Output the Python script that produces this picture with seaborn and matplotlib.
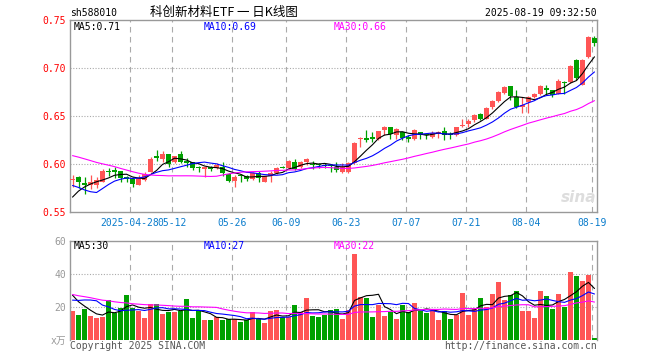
import numpy as np
import pandas as pd
import matplotlib
matplotlib.use("Agg")
import matplotlib.pyplot as plt
import seaborn as sns

# ---------------- data ----------------
holidays = ["2025-05-01", "2025-05-02", "2025-05-05", "2025-06-02"]
dates = pd.bdate_range("2025-04-14", "2025-08-19", freq="C", holidays=holidays)

tick_dates = ["2025-04-28", "2025-05-12", "2025-05-26", "2025-06-09", "2025-06-23",
              "2025-07-07", "2025-07-21", "2025-08-04", "2025-08-19"]
tick_labels = ["2025-04-28", "05-12", "05-26", "06-09", "06-23",
               "07-07", "07-21", "08-04", "08-19"]

open_ = [0.5835, 0.5870, 0.5800, 0.5785, 0.5785, 0.5813, 0.5924, 0.5938, 0.5931, 0.5865,
         0.5847, 0.5788, 0.5840, 0.5924, 0.6083, 0.6056, 0.6108, 0.6020, 0.6108, 0.6030,
         0.6020, 0.5962, 0.5955, 0.5958, 0.5958, 0.5976, 0.5899, 0.5830, 0.5885, 0.5882,
         0.5847, 0.5910, 0.5820, 0.5875, 0.5910, 0.5969, 0.5965, 0.6028, 0.5976, 0.6021,
         0.5995, 0.5993, 0.5983, 0.5983, 0.5976, 0.5924, 0.5924, 0.6010, 0.6260, 0.6271,
         0.6288, 0.6264, 0.6358, 0.6385, 0.6306, 0.6330, 0.6274, 0.6264, 0.6333, 0.6309,
         0.6281, 0.6326, 0.6347, 0.6309, 0.6306, 0.6396, 0.6417, 0.6462, 0.6521, 0.6472,
         0.6594, 0.6653, 0.6740, 0.6816, 0.6698, 0.6594, 0.6642, 0.6698, 0.6733, 0.6792,
         0.6767, 0.6733, 0.6854, 0.6851, 0.7080, 0.6826, 0.7115, 0.7313]
high = [0.5889, 0.5875, 0.5865, 0.5889, 0.5872, 0.5948, 0.5965, 0.5976, 0.5934, 0.5875,
        0.5865, 0.5890, 0.5915, 0.6070, 0.6150, 0.6139, 0.6108, 0.6090, 0.6135, 0.6060,
        0.6020, 0.5983, 0.5966, 0.5983, 0.6010, 0.6020, 0.5913, 0.5885, 0.5899, 0.5893,
        0.5915, 0.5927, 0.5875, 0.5927, 0.5976, 0.5983, 0.6045, 0.6052, 0.6038, 0.6069,
        0.6038, 0.6010, 0.6010, 0.5990, 0.6028, 0.6010, 0.6028, 0.6226, 0.6281, 0.6358,
        0.6340, 0.6347, 0.6399, 0.6392, 0.6375, 0.6340, 0.6306, 0.6368, 0.6340, 0.6323,
        0.6347, 0.6347, 0.6392, 0.6330, 0.6392, 0.6472, 0.6472, 0.6524, 0.6531, 0.6594,
        0.6670, 0.6757, 0.6816, 0.6816, 0.6767, 0.6698, 0.6712, 0.6740, 0.6826, 0.6826,
        0.6767, 0.6885, 0.6861, 0.7031, 0.7094, 0.7094, 0.7337, 0.7330]
low = [0.5767, 0.5750, 0.5691, 0.5747, 0.5750, 0.5810, 0.5878, 0.5854, 0.5810, 0.5813,
       0.5767, 0.5780, 0.5830, 0.5920, 0.6038, 0.6028, 0.5969, 0.6015, 0.6010, 0.5975,
       0.5935, 0.5924, 0.5865, 0.5931, 0.5948, 0.5875, 0.5820, 0.5767, 0.5813, 0.5823,
       0.5840, 0.5812, 0.5813, 0.5813, 0.5903, 0.5958, 0.5948, 0.5941, 0.5958, 0.5993,
       0.5948, 0.5962, 0.5962, 0.5924, 0.5924, 0.5910, 0.5910, 0.6000, 0.6184, 0.6236,
       0.6226, 0.6253, 0.6306, 0.6264, 0.6264, 0.6247, 0.6229, 0.6253, 0.6264, 0.6264,
       0.6271, 0.6271, 0.6247, 0.6260, 0.6295, 0.6385, 0.6392, 0.6444, 0.6462, 0.6472,
       0.6573, 0.6642, 0.6733, 0.6670, 0.6583, 0.6531, 0.6531, 0.6688, 0.6722, 0.6733,
       0.6698, 0.6733, 0.6733, 0.6844, 0.6878, 0.6826, 0.7104, 0.7233]
close = [0.5840, 0.5813, 0.5785, 0.5813, 0.5837, 0.5931, 0.5920, 0.5924, 0.5854, 0.5851,
         0.5790, 0.5860, 0.5900, 0.6056, 0.6069, 0.6104, 0.6000, 0.6085, 0.6020, 0.6010,
         0.5958, 0.5958, 0.5962, 0.5955, 0.5990, 0.5906, 0.5830, 0.5872, 0.5880, 0.5847,
         0.5910, 0.5858, 0.5875, 0.5910, 0.5965, 0.5965, 0.6038, 0.5948, 0.6028, 0.6052,
         0.5993, 0.5990, 0.5979, 0.5979, 0.5941, 0.5976, 0.6017, 0.6219, 0.6271, 0.6247,
         0.6260, 0.6347, 0.6392, 0.6316, 0.6365, 0.6271, 0.6267, 0.6358, 0.6306, 0.6302,
         0.6323, 0.6333, 0.6306, 0.6302, 0.6385, 0.6403, 0.6451, 0.6510, 0.6472, 0.6583,
         0.6653, 0.6747, 0.6802, 0.6712, 0.6594, 0.6618, 0.6698, 0.6733, 0.6816, 0.6767,
         0.6722, 0.6861, 0.6847, 0.7024, 0.6896, 0.7087, 0.7319, 0.7260]
volume = [17.6, 15.2, 18.8, 14.6, 13.4, 14.0, 24.4, 16.6, 19.2, 27.2,
          19.2, 17.6, 13.4, 21.6, 21.8, 15.8, 17.0, 17.0, 17.6, 24.8,
          13.4, 17.6, 12.2, 12.2, 13.8, 12.4, 12.6, 12.6, 11.0, 12.2,
          17.0, 13.0, 10.4, 17.6, 18.2, 13.8, 13.8, 21.2, 16.8, 25.4,
          14.6, 14.0, 15.2, 18.2, 18.8, 13.0, 18.2, 51.8, 26.0, 25.4,
          14.2, 21.2, 14.6, 17.2, 13.0, 21.2, 16.8, 22.4, 17.8, 16.4,
          18.6, 12.4, 17.6, 13.0, 15.4, 28.6, 15.2, 19.2, 25.4, 19.8,
          27.8, 35.0, 24.4, 27.2, 29.6, 17.6, 17.6, 13.6, 29.6, 26.6,
          19.0, 27.8, 20.0, 41.0, 38.6, 35.6, 39.2, 1.6]
# closes / volumes of the 29 sessions before the first bar (feed the moving averages)
hist_close = [0.628, 0.632, 0.636, 0.640, 0.638, 0.634, 0.637, 0.641, 0.636, 0.630,
              0.633, 0.628, 0.624, 0.620, 0.615, 0.610, 0.606, 0.603, 0.600, 0.598,
              0.602, 0.604, 0.600, 0.592, 0.552, 0.550, 0.557, 0.566, 0.572]
hist_volume = [38, 36, 33, 37, 35, 34, 36, 32, 35, 34,
               25, 22, 26, 24, 21, 23, 25, 22, 24, 24,
               17, 16, 15, 18, 40, 35, 32, 27, 24.4]

price_ticks = [0.55, 0.60, 0.65, 0.70, 0.75]
vol_ticks = [0, 20, 40, 60]
vol_tick_labels = ["x万", "20", "40", "60"]

# ---------------- style ----------------
sns.set_theme(style="white")
plt.rcParams["font.family"] = ["DejaVu Sans Mono", "Noto Sans CJK SC"]
plt.rcParams["axes.unicode_minus"] = False

RED = "#ff5555"
GREEN = "#00a000"
GRID = "#aaaaaa"
SPINE = "#999999"
BLUE_T = "#0a7ccc"

n = len(close)
x = np.arange(n)
o = np.array(open_); c = np.array(close); h = np.array(high); l = np.array(low)
up = c >= o
colors = np.where(up, RED, GREEN)

full_c = pd.Series(hist_close + close)
full_v = pd.Series(hist_volume + volume)
k = len(hist_close)
ma = {p: full_c.rolling(p).mean().iloc[k:].to_numpy() for p in (5, 10, 30)}
vma = {p: full_v.rolling(p).mean().iloc[k:].to_numpy() for p in (5, 10, 30)}
ma_colors = {5: "black", 10: "#0000ff", 30: "#ff00ff"}

date_index = {d.strftime("%Y-%m-%d"): i for i, d in enumerate(dates)}
grid_pos = np.array([date_index[d] for d in tick_dates]) - 0.42

W, H = 660, 360
fig = plt.figure(figsize=(W / 100, H / 100), dpi=100)
ax = fig.add_axes([70 / W, 1 - 212.3 / H, 527 / W, 192.3 / H])
axv = fig.add_axes([70 / W, 1 - 340.3 / H, 527 / W, 99.6 / H])
xlim = (-0.42, 87.42)

# ---- price panel ----
for yv in (0.60, 0.65, 0.70):
    ax.axhline(yv, color=GRID, ls=(0, (1, 1.5)), lw=0.8, zorder=0)
for gp in grid_pos:
    ax.axvline(gp, color=GRID, ls=(0, (5, 4)), lw=0.8, zorder=0)

ax.vlines(x, l, h, colors=colors, lw=0.9, zorder=2)
body = np.maximum(np.abs(c - o), 0.0011)
ax.bar(x, body, bottom=np.minimum(o, c), width=0.8, color=colors, linewidth=0, zorder=3)
for p in (5, 10, 30):
    sns.lineplot(x=x, y=ma[p], ax=ax, color=ma_colors[p], linewidth=0.8, zorder=4)

ax.set_xlim(*xlim)
ax.set_ylim(0.55, 0.75)
ax.set_yticks(price_ticks)
ax.set_yticklabels([f"{v:.2f}" for v in price_ticks], color="#ff0000", fontsize=7)
ax.set_xticks(grid_pos)
ax.set_xticklabels(tick_labels, color=BLUE_T, fontsize=7)
ax.tick_params(axis="both", length=0, pad=3)
ax.tick_params(axis="x", pad=4)
for s in ax.spines.values():
    s.set_color(SPINE); s.set_linewidth(1.0)

# ---- volume panel ----
for yv in (20, 40):
    axv.axhline(yv, color=GRID, ls=(0, (1, 1.5)), lw=0.8, zorder=0)
for gp in grid_pos:
    axv.axvline(gp, color=GRID, ls=(0, (5, 4)), lw=0.8, zorder=0)
axv.bar(x, volume, width=0.83, color=colors, linewidth=0, zorder=2)
for p in (5, 10, 30):
    sns.lineplot(x=x, y=vma[p], ax=axv, color=ma_colors[p], linewidth=0.8, zorder=4)
axv.set_xlim(*xlim)
axv.set_ylim(0, 60)
axv.set_yticks(vol_ticks)
axv.set_yticklabels(vol_tick_labels, color="#999999", fontsize=7)
axv.set_xticks([])
axv.tick_params(axis="both", length=0, pad=3)
for name, s in axv.spines.items():
    s.set_color(SPINE); s.set_linewidth(1.0)
axv.spines["bottom"].set_visible(False)

# ---- texts ----
def ft(px, py, s, **kw):
    fig.text(px / W, 1 - py / H, s, va="center", **kw)

ft(70, 13, "sh588010", ha="left", fontsize=7, color="black")
ft(150, 12.5, "科创新材料ETF 一 日K线图", ha="left", fontsize=9, color="black",
   family=["Noto Sans CJK SC", "DejaVu Sans"])
ft(597, 12.5, "2025-08-19 09:32:50", ha="right", fontsize=7, color="black")
ft(74, 27, "MA5:0.71", ha="left", fontsize=7, color="black")
ft(204, 27, "MA10:0.69", ha="left", fontsize=7, color="#0000ff")
ft(334, 27, "MA30:0.66", ha="left", fontsize=7, color="#ff00ff")
ft(74, 246, "MA5:30", ha="left", fontsize=7, color="black")
ft(204, 246, "MA10:27", ha="left", fontsize=7, color="#0000ff")
ft(334, 246, "MA30:22", ha="left", fontsize=7, color="#ff00ff")
ft(70, 346, "Copyright 2025 SINA.COM", ha="left", fontsize=7, color="#555555")
ft(597, 346, "http://finance.sina.com.cn", ha="right", fontsize=7, color="#555555")
ft(596, 197, "sina", ha="right", fontsize=11, color="#dddddd", style="italic",
   weight="bold", family="DejaVu Sans")

fig.savefig("out.png", dpi=100)
